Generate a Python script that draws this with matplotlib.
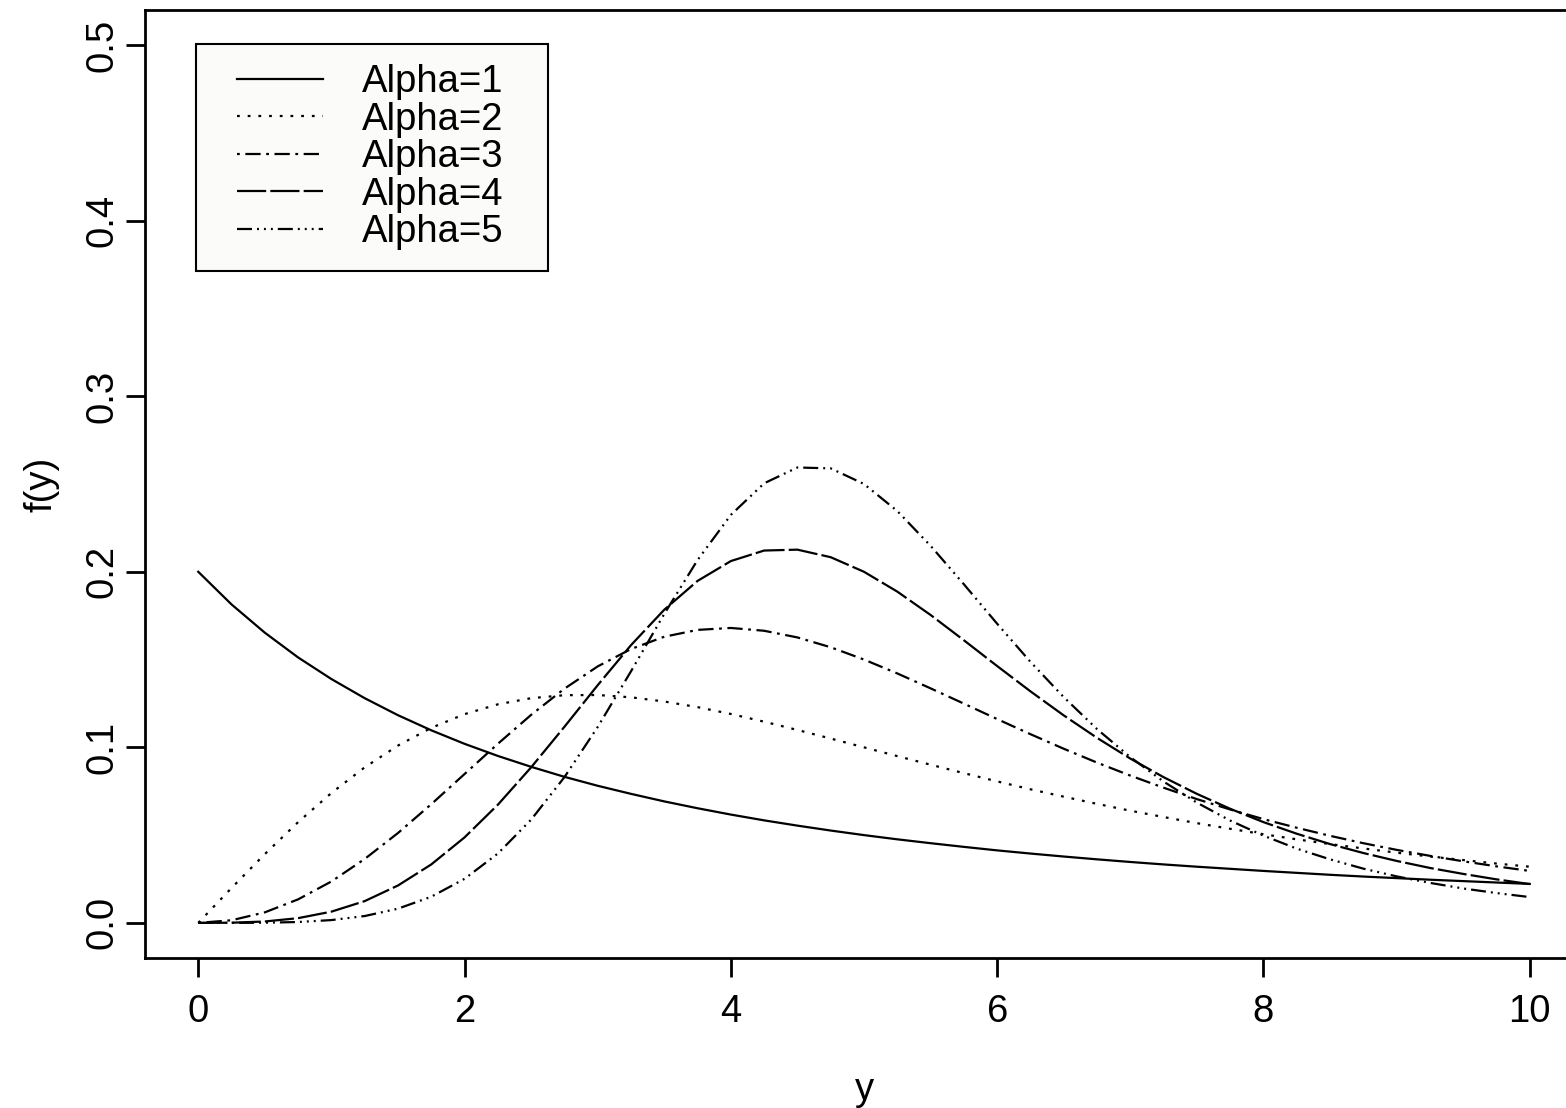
import matplotlib.pyplot as plt
from matplotlib.patches import Rectangle

plt.rcParams['font.family'] = ['Liberation Sans', 'DejaVu Sans']
plt.rcParams['lines.scale_dashes'] = False

# values every 0.25 along y
y_grid = [0, 0.25, 0.5, 0.75, 1, 1.25, 1.5, 1.75, 2, 2.25, 2.5, 2.75, 3, 3.25,
          3.5, 3.75, 4, 4.25, 4.5, 4.75, 5, 5.25, 5.5, 5.75, 6, 6.25, 6.5, 6.75,
          7, 7.25, 7.5, 7.75, 8, 8.25, 8.5, 8.75, 9, 9.25, 9.5, 9.75, 10]
f_alpha1 = [0.2, 0.1814, 0.1653, 0.1512, 0.1389, 0.128, 0.1183, 0.1097, 0.1020, 0.0951,
            0.0889, 0.0832, 0.0781, 0.0735, 0.0692, 0.0653, 0.0617, 0.0584, 0.0554, 0.0526,
            0.05, 0.0476, 0.0454, 0.0433, 0.0413, 0.0395, 0.0378, 0.0362, 0.0347, 0.0333,
            0.032, 0.0308, 0.0296, 0.0285, 0.0274, 0.0264, 0.0255, 0.0246, 0.0238, 0.0230,
            0.0222]
f_alpha2 = [0, 0.0199, 0.0392, 0.0574, 0.0740, 0.0886, 0.1010, 0.1111, 0.1189, 0.1245,
            0.128, 0.1297, 0.1298, 0.1285, 0.1261, 0.1229, 0.1190, 0.1146, 0.1099, 0.1050,
            0.1, 0.0950, 0.0901, 0.0853, 0.0806, 0.0761, 0.0719, 0.0678, 0.0639, 0.0603,
            0.0568, 0.0536, 0.0505, 0.0476, 0.0449, 0.0424, 0.0400, 0.0378, 0.0358, 0.0338,
            0.032]
f_alpha3 = [0, 0.0015, 0.0060, 0.0134, 0.0236, 0.0364, 0.0512, 0.0676, 0.0848, 0.1020,
            0.1185, 0.1334, 0.1461, 0.1560, 0.1630, 0.1669, 0.1680, 0.1664, 0.1626, 0.1570,
            0.15, 0.1421, 0.1336, 0.1249, 0.1161, 0.1075, 0.0992, 0.0913, 0.0839, 0.0770,
            0.0705, 0.0646, 0.0591, 0.0542, 0.0496, 0.0454, 0.0416, 0.0382, 0.0351, 0.0322,
            0.0296]
f_alpha4 = [0, 0.0001, 0.0008, 0.0027, 0.0064, 0.0124, 0.0213, 0.0333, 0.0487, 0.0673,
            0.0886, 0.1117, 0.1354, 0.1582, 0.1784, 0.1948, 0.2061, 0.2121, 0.2126, 0.2083,
            0.2, 0.1887, 0.1754, 0.1610, 0.1463, 0.1319, 0.1182, 0.1054, 0.0936, 0.0830,
            0.0735, 0.0650, 0.0574, 0.0508, 0.0449, 0.0398, 0.0353, 0.0313, 0.0279, 0.0248,
            0.0221]
f_alpha5 = [0, 0.0000, 0.0001, 0.0005, 0.0016, 0.0039, 0.0081, 0.0149, 0.0251, 0.0395,
            0.0588, 0.0830, 0.1116, 0.1433, 0.1760, 0.2067, 0.2324, 0.2504, 0.2594, 0.2589,
            0.25, 0.2346, 0.2148, 0.1929, 0.1704, 0.1487, 0.1286, 0.1104, 0.0944, 0.0805,
            0.0685, 0.0583, 0.0497, 0.0423, 0.0362, 0.0309, 0.0265, 0.0228, 0.0196, 0.0170,
            0.0147]

labels = ['Alpha=1', 'Alpha=2', 'Alpha=3', 'Alpha=4', 'Alpha=5']
styles = ['-', (0, (2, 5.7)), (0, (2, 4, 11, 4)), (0, (21, 3)),
          (0, (10.8, 3.6, 1.4, 3.6, 1.4, 3.6, 1.4, 3.6))]

W, H = 1566, 1108
fig = plt.figure(figsize=(W / 100, H / 100), dpi=100)
ax = fig.add_axes([145 / W, 150 / H, 1438 / W, 948 / H])

for ys, lab, ls in zip([f_alpha1, f_alpha2, f_alpha3, f_alpha4, f_alpha5], labels, styles):
    ax.plot(y_grid, ys, color='black', lw=1.6, linestyle=ls, label=lab)

ax.set_xlim(-0.4, 10.4)
ax.set_ylim(-0.02, 0.52)
ax.set_xticks([0, 2, 4, 6, 8, 10])
ax.set_yticks([0, 0.1, 0.2, 0.3, 0.4, 0.5])
ax.set_yticklabels(['0.0', '0.1', '0.2', '0.3', '0.4', '0.5'], rotation=90, va='center')
ax.tick_params(length=14, width=2, labelsize=27.5, direction='out')
ax.tick_params(axis='x', pad=12)
ax.tick_params(axis='y', pad=4)
for sp in ax.spines.values():
    sp.set_linewidth(2)
ax.spines['right'].set_visible(False)

ax.set_xlabel('y', fontsize=27.5, labelpad=30)
ax.set_ylabel('f(y)', fontsize=27.5, labelpad=18)

# legend box drawn separately so the padding can match the R output
ax.add_patch(Rectangle((196 / W, 1 - 271 / H), 352 / W, 227 / H,
                       transform=fig.transFigure, facecolor='#fbfbf9',
                       edgecolor='black', lw=1.5, zorder=4))
leg = ax.legend(loc='upper left', bbox_to_anchor=(237 / W, 1 - 64 / H),
                bbox_transform=fig.transFigure, borderaxespad=0, borderpad=0, fontsize=27.5,
                frameon=False, handlelength=2.25, handletextpad=1.02, labelspacing=0.04)
leg.set_zorder(5)

fig.savefig('out.png', dpi=100)
